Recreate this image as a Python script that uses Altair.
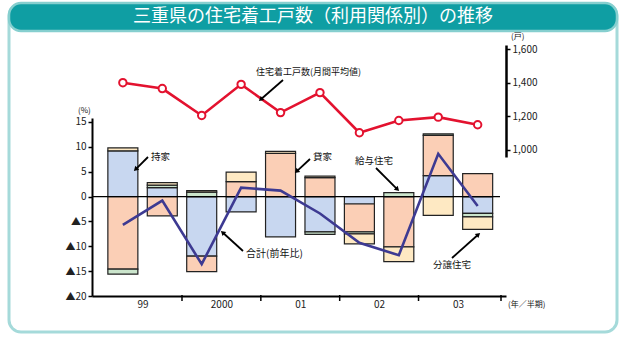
import json, math
import altair as alt
import pandas as pd

# ---------------- data ----------------
periods = ["99上", "99下", "00上", "00下", "01上", "01下", "02上", "02下", "03上", "03下"]
year_labels = ["99", "2000", "01", "02", "03"]
categories = ["持家", "貸家", "給与住宅", "分譲住宅"]
mochiie = [9.2, 1.8, -12.0, -3.1, -8.1, -7.1, -1.5, 0.0, 4.2, -3.4]
kashiya = [-14.6, -3.9, -3.1, 3.0, 8.7, 3.8, -5.6, -10.1, 8.1, 4.6]
kyuyo = [-1.0, 0.5, 0.9, 0.0, 0.0, -0.5, -0.4, 0.8, 0.3, -0.7]
bunjo = [0.6, 0.5, 0.3, 1.9, 0.4, 0.3, -2.0, -3.0, -3.8, -2.5]
total = [-5.7, -0.8, -13.6, 1.8, 1.2, -3.4, -9.3, -11.8, 8.6, -1.9]
starts = [1400, 1365, 1205, 1390, 1222, 1341, 1102, 1175, 1195, 1150]
left_ticks = [-20, -15, -10, -5, 0, 5, 10, 15]
right_ticks = [1000, 1200, 1400, 1600]

colors = ["#c8d7f0", "#fbcfb6", "#cbe5cc", "#fee9c3"]
FONT = "Noto Sans CJK JP"

# ---------------- layout ----------------
PAD_L, PAD_T, W, H = 92, 45, 414, 251
XMIN, XMAX = -0.656, 9.592

rows = []
for i in range(len(periods)):
    for k, vals in enumerate([mochiie, kashiya, kyuyo, bunjo]):
        if vals[i] != 0:
            rows.append({"i": i, "period": periods[i], "cat": categories[k], "v": vals[i], "o": k})
df_bars = pd.DataFrame(rows)
df_total = pd.DataFrame({"i": list(range(len(periods))), "total": total})
df_starts = pd.DataFrame({"i": list(range(len(periods))), "starts": starts})
n_years = len(year_labels)
df_bound = pd.DataFrame({"i": [2 * k + 1.5 for k in range(n_years - 1)] + [XMAX]})
one = pd.DataFrame({"k": [0]})

xscale = alt.Scale(domain=[XMIN, XMAX], nice=False, zero=False)
label_expr = "%s[floor(datum.value / 2)]" % json.dumps(year_labels, ensure_ascii=False)
x_axis = alt.Axis(
    values=[2 * k + 0.5 for k in range(n_years)], labelExpr=label_expr, ticks=False,
    grid=False, title=None, domainColor="#000", domainWidth=2, labelFont=FONT,
    labelFontSize=10, labelColor="#222", labelPadding=3, zindex=2)
X = alt.X("i:Q", scale=xscale, axis=x_axis)

yl_scale = alt.Scale(domain=[-20, 15.8], range=[H, 73], nice=False, zero=False)
yl_axis = alt.Axis(values=left_ticks, grid=False, title=None, domainColor="#000",
                   domainWidth=2, tickColor="#000", tickSize=4, tickWidth=1.5,
                   labelFont=FONT, labelFontSize=10, labelColor="#222", zindex=2,
                   labelExpr="datum.value < 0 ? '▲' + (-datum.value) : datum.label")

yr_scale = alt.Scale(domain=[958, 1624], range=[112, 0], nice=False, zero=False)
yr_axis = alt.Axis(orient="right", values=right_ticks, format=",.0f", grid=False, title=None,
                   domainColor="#000", domainWidth=2.5, tickColor="#000", tickSize=4,
                   tickWidth=1.5, labelFont=FONT, labelFontSize=10, labelColor="#222",
                   zindex=2)


def px(x):
    return alt.value(x - PAD_L)


def py(y):
    return alt.value(y - PAD_T)


def rect(x1, y1, x2, y2, **kw):
    return alt.Chart(one).mark_rect(**kw).encode(x=px(x1), x2=px(x2), y=py(y1), y2=py(y2))


def text(x, y, s, size=9.5, color="#111", align="left", **kw):
    return alt.Chart(one).mark_text(align=align, baseline="middle", fontSize=size,
                                    font=FONT, color=color, **kw).encode(
        x=px(x), y=py(y), text=alt.value(s))


def arrow(x1, y1, x2, y2):
    dx, dy = x2 - x1, y2 - y1
    ang = math.degrees(math.atan2(dx, -dy)) % 360
    L = math.hypot(dx, dy)
    hx, hy = x2 - dx / L * 3, y2 - dy / L * 3
    line = alt.Chart(one).mark_rule(color="#000", strokeWidth=1.8).encode(
        x=px(x1), x2=px(hx), y=py(y1), y2=py(hy))
    head = alt.Chart(one).mark_point(shape="triangle", filled=True, size=30, color="#000",
                                     opacity=1, angle=ang).encode(x=px(hx), y=py(hy))
    return [line, head]


# ---------------- frame ----------------
frame = rect(9, 4, 617, 332, fill="white", stroke="#a5dada", strokeWidth=3, cornerRadius=12)
banner = rect(9, 3, 617, 31, fill="#0f9ea3", stroke="#86cfcf", strokeWidth=2.5, cornerRadius=12)
title = text(313, 17, "三重県の住宅着工戸数（利用関係別）の推移", size=18, color="white",
             align="center")

# ---------------- left-scale layers ----------------
bars = alt.Chart(df_bars).mark_bar(size=30, stroke="#222", strokeWidth=1.2).encode(
    x=X,
    y=alt.Y("v:Q", stack="zero", scale=yl_scale, axis=yl_axis),
    color=alt.Color("cat:N", scale=alt.Scale(domain=categories, range=colors), legend=None),
    order=alt.Order("o:Q"),
)
zero = alt.Chart(one).mark_rule(color="#000", strokeWidth=1.2).encode(
    y=alt.datum(0, scale=yl_scale, axis=yl_axis), x=alt.value(0), x2=alt.value(408))
line_total = alt.Chart(df_total).mark_line(color="#3d3a92", strokeWidth=2.6).encode(
    x=X, y=alt.Y("total:Q", scale=yl_scale, axis=yl_axis))
bticks = alt.Chart(df_bound).mark_rule(color="#000", strokeWidth=1.5).encode(
    x=X, y=alt.value(H - 1), y2=alt.value(H + 5))
left = alt.layer(bars, zero, line_total, bticks)

# ---------------- right-scale layers ----------------
red_line = alt.Chart(df_starts).mark_line(color="#e3122f", strokeWidth=2.6).encode(
    x=X, y=alt.Y("starts:Q", scale=yr_scale, axis=yr_axis))
red_pts = alt.Chart(df_starts).mark_point(shape="circle", size=55, filled=True,
                                          fill="white", stroke="#e3122f", strokeWidth=2,
                                          opacity=1).encode(
    x=X, y=alt.Y("starts:Q", scale=yr_scale, axis=yr_axis))
right = alt.layer(red_line, red_pts)

# ---------------- annotations ----------------
ann = [
    text(78, 111, "(%)", size=8),
    text(511, 37, "(戸)", size=8),
    text(508, 305, "(年／半期)", size=8),
    text(151, 157, "持家"),
    text(313, 157, "貸家"),
    text(355, 161, "給与住宅"),
    text(433, 265, "分譲住宅"),
    text(246, 254, "合計(前年比)", size=10),
    text(256, 72, "住宅着工戸数(月間平均値)", size=9),
]
ann += arrow(148, 157, 134, 171)
ann += arrow(310, 159, 295, 173)
ann += arrow(376, 168, 399, 191)
ann += arrow(452, 258, 480, 233)
ann += arrow(243, 251, 221, 231)
ann += arrow(283, 80, 259, 101)

chart = alt.layer(frame, banner, title, left, right, *ann).resolve_scale(
    y="independent"
).properties(
    width=W, height=H,
    padding={"left": PAD_L, "top": PAD_T, "right": 626 - PAD_L - W, "bottom": 337 - PAD_T - H},
    autosize=alt.AutoSizeParams(type="none"),
    background="white",
).configure_view(stroke=None)

chart.save("out.html", embed_options={"renderer": "svg", "actions": False})
